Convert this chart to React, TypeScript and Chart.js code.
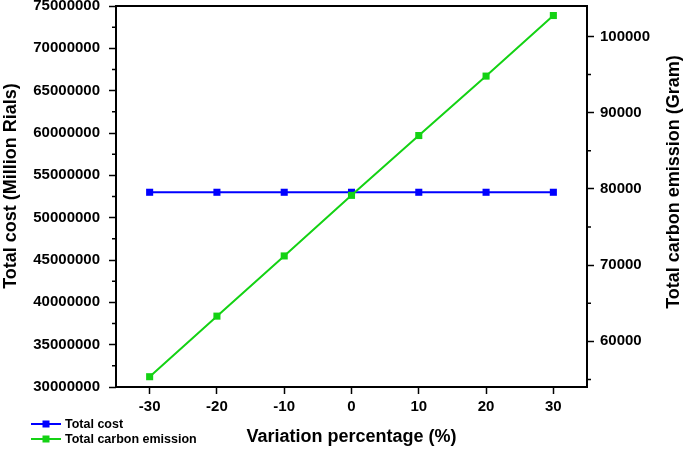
import React, { useEffect, useRef } from 'react';
import { Chart, registerables } from 'chart.js';

Chart.register(...registerables);

const variation = [-30, -20, -10, 0, 10, 20, 30];
const totalCost = [53000000, 53000000, 53000000, 53000000, 53000000, 53000000, 53000000];
const carbonEmission = [55350, 63300, 71200, 79150, 87000, 94800, 102750];

const xTicks = [-30, -20, -10, 0, 10, 20, 30];
const costTicks = [30000000, 35000000, 40000000, 45000000, 50000000, 55000000, 60000000, 65000000, 70000000, 75000000];
const costMinorTicks = [32500000, 37500000, 42500000, 47500000, 52500000, 57500000, 62500000, 67500000, 72500000];
const emissionTicks = [60000, 70000, 80000, 90000, 100000];
const emissionMinorTicks = [55000, 65000, 75000, 85000, 95000];

const seriesNames = ['Total cost', 'Total carbon emission'];
const seriesColors = ['#0000ff', '#14d214'];
const leftTitle = 'Total cost (Million Rials)';
const rightTitle = 'Total carbon emission (Gram)';
const bottomTitle = 'Variation percentage (%)';

const FONT = '"Liberation Sans", Arial, sans-serif';

const zeroPad = (s: any) => {
  s.paddingLeft = 0;
  s.paddingRight = 0;
  s.paddingTop = 0;
  s.paddingBottom = 0;
};

const tickGrid = {
  display: true,
  drawOnChartArea: false,
  drawTicks: true,
  tickLength: 7,
  tickWidth: 1.5,
  tickColor: '#000',
};

const decorPlugin = {
  id: 'decor',
  afterDraw(chart: any) {
    const { ctx, chartArea: a, scales } = chart;
    ctx.save();
    // frame
    ctx.strokeStyle = '#000';
    ctx.lineWidth = 2;
    ctx.strokeRect(a.left, a.top, a.right - a.left, a.bottom - a.top);
    // minor ticks
    ctx.lineWidth = 1.5;
    ctx.beginPath();
    costMinorTicks.forEach((v) => {
      const y = scales.y.getPixelForValue(v);
      ctx.moveTo(a.left - 4, y);
      ctx.lineTo(a.left, y);
    });
    emissionMinorTicks.forEach((v) => {
      const y = scales.y1.getPixelForValue(v);
      ctx.moveTo(a.right, y);
      ctx.lineTo(a.right + 4, y);
    });
    ctx.stroke();

    // vertical titles
    ctx.fillStyle = '#000';
    ctx.font = `bold 18px ${FONT}`;
    ctx.textAlign = 'center';
    ctx.textBaseline = 'middle';
    ctx.save();
    ctx.translate(11, 186);
    ctx.rotate(-Math.PI / 2);
    ctx.fillText(leftTitle, 0, 0);
    ctx.restore();
    ctx.save();
    ctx.translate(674, 182);
    ctx.rotate(-Math.PI / 2);
    ctx.fillText(rightTitle, 0, 0);
    ctx.restore();

    // legend
    const rows = [424, 439];
    ctx.font = `bold 12.5px ${FONT}`;
    ctx.textAlign = 'left';
    rows.forEach((ry, i) => {
      ctx.strokeStyle = seriesColors[i];
      ctx.fillStyle = seriesColors[i];
      ctx.lineWidth = 2;
      ctx.beginPath();
      ctx.moveTo(31, ry);
      ctx.lineTo(61, ry);
      ctx.stroke();
      ctx.fillRect(46 - 3.5, ry - 3.5, 7, 7);
      ctx.fillStyle = '#000';
      ctx.fillText(seriesNames[i], 65, ry + 0.5);
    });
    ctx.restore();
  },
};

export default function App() {
  const ref = useRef<HTMLCanvasElement>(null);

  useEffect(() => {
    if (!ref.current) return;
    const tickFont = { family: FONT, size: 15, weight: 'bold' as const };
    const chart = new Chart(ref.current, {
      type: 'line',
      data: {
        datasets: [
          {
            label: seriesNames[0],
            data: variation.map((x, i) => ({ x, y: totalCost[i] })),
            yAxisID: 'y',
            borderColor: seriesColors[0],
            backgroundColor: seriesColors[0],
            borderWidth: 2,
            pointStyle: 'rect',
            pointRadius: 5,
            pointBorderWidth: 0,
            order: 1,
          },
          {
            label: seriesNames[1],
            data: variation.map((x, i) => ({ x, y: carbonEmission[i] })),
            yAxisID: 'y1',
            borderColor: seriesColors[1],
            backgroundColor: seriesColors[1],
            borderWidth: 2,
            pointStyle: 'rect',
            pointRadius: 5,
            pointBorderWidth: 0,
            order: 0,
          },
        ],
      },
      options: {
        responsive: false,
        animation: false,
        layout: { padding: { top: 6, left: 0, right: 0, bottom: 0 } },
        plugins: {
          legend: { display: false },
          tooltip: { enabled: false },
        },
        scales: {
          x: {
            type: 'linear',
            position: 'bottom',
            min: -35,
            max: 35,
            afterBuildTicks: (s: any) => {
              s.ticks = xTicks.map((v) => ({ value: v }));
            },
            afterFit: (s: any) => {
              s.height = 62;
              zeroPad(s);
            },
            ticks: {
              font: tickFont,
              color: '#000',
              padding: 4,
              maxRotation: 0,
              callback: (v: any) => String(v),
            },
            grid: tickGrid,
            border: { display: false },
            title: {
              display: true,
              text: bottomTitle,
              color: '#000',
              font: { family: FONT, size: 18, weight: 'bold' },
              padding: { top: 0, bottom: 1 },
            },
          },
          y: {
            type: 'linear',
            position: 'left',
            min: 30000000,
            max: 75000000,
            afterBuildTicks: (s: any) => {
              s.ticks = costTicks.map((v) => ({ value: v }));
            },
            afterFit: (s: any) => {
              s.width = 116;
              zeroPad(s);
            },
            ticks: {
              font: tickFont,
              color: '#000',
              padding: 9,
              callback: (v: any) => String(v),
            },
            grid: tickGrid,
            border: { display: false },
          },
          y1: {
            type: 'linear',
            position: 'right',
            min: 54000,
            max: 104000,
            afterBuildTicks: (s: any) => {
              s.ticks = emissionTicks.map((v) => ({ value: v }));
            },
            afterFit: (s: any) => {
              s.width = 98;
              zeroPad(s);
            },
            ticks: {
              font: tickFont,
              color: '#000',
              padding: 6,
              callback: (v: any) => String(v),
            },
            grid: tickGrid,
            border: { display: false },
          },
        },
      },
      plugins: [decorPlugin],
    } as any);
    return () => chart.destroy();
  }, []);

  return (
    <canvas
      ref={ref}
      width={685}
      height={449}
      style={{ position: 'absolute', left: 0, top: 0, display: 'block' }}
    />
  );
}
